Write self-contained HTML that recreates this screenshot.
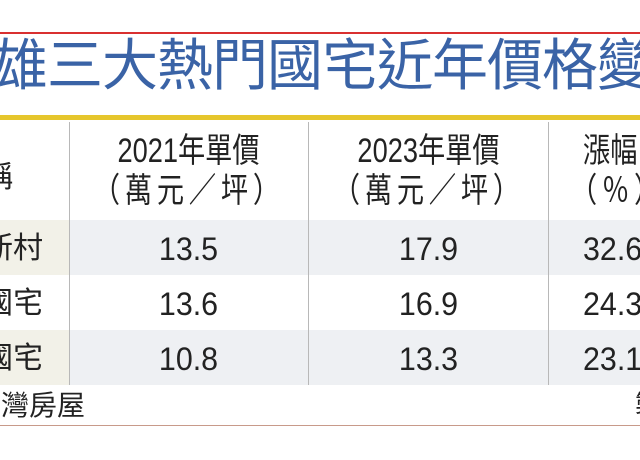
<!DOCTYPE html>
<html><head><meta charset="utf-8"><style>
body{margin:0;width:640px;height:460px;overflow:hidden;background:#fff;position:relative;font-family:"Liberation Sans","Noto Sans CJK TC",sans-serif;color:#222}
div{position:absolute}
.t{white-space:nowrap}
.h{font-size:34px;line-height:36px;text-align:center;width:239px;transform:scaleX(.8);transform-origin:center}
.n{font-size:32px;line-height:32px;text-align:center;width:239px;transform:scaleX(.95);transform-origin:center}
.l{font-size:30px;line-height:30px}
.c4{font-size:32px;line-height:32px;transform:scaleX(.95);transform-origin:left}
</style></head><body>
<div style="left:0;top:32px;width:640px;height:2px;background:#d93030"></div>
<div class="t" style="left:-8px;top:34px;font-size:56px;line-height:56px;letter-spacing:-1px;color:#3a63a6;font-family:'Noto Sans CJK TC',sans-serif">雄三大熱門國宅近年價格變</div>
<div style="left:0;top:115px;width:640px;height:5px;background:#e6c62c"></div>
<div style="left:0;top:220px;width:69px;height:55px;background:#f2f1e8"></div>
<div style="left:69px;top:220px;width:571px;height:55px;background:#eef0f3"></div>
<div style="left:0;top:330px;width:69px;height:55px;background:#f2f1e8"></div>
<div style="left:69px;top:330px;width:571px;height:55px;background:#eef0f3"></div>
<div style="left:69px;top:122px;width:1px;height:263px;background:#b8b8b8"></div>
<div style="left:308px;top:122px;width:1px;height:263px;background:#b8b8b8"></div>
<div style="left:548px;top:122px;width:1px;height:263px;background:#b8b8b8"></div>
<div class="t l" style="left:-17px;top:163px">稱</div>
<div class="h t" style="left:69px;top:133px">2021年單價</div>
<div class="h t" style="left:69px;top:173px;letter-spacing:6px">（萬元／坪）</div>
<div class="h t" style="left:309px;top:133px">2023年單價</div>
<div class="h t" style="left:309px;top:173px;letter-spacing:6px">（萬元／坪）</div>
<div class="t" style="left:583px;top:133px;font-size:34px;line-height:36px;transform:scaleX(.8);transform-origin:left">漲幅</div>
<div class="t" style="left:570px;top:173px;font-size:34px;line-height:36px;letter-spacing:6px;transform:scaleX(.8);transform-origin:left">（％）</div>
<div class="t l" style="left:-17px;top:234px">新村</div>
<div class="t l" style="left:-17px;top:289px">國宅</div>
<div class="t l" style="left:-17px;top:344px">國宅</div>
<div class="n t" style="left:69px;top:233px">13.5</div>
<div class="n t" style="left:309px;top:233px">17.9</div>
<div class="t c4" style="left:583px;top:233px">32.6</div>
<div class="n t" style="left:69px;top:288px">13.6</div>
<div class="n t" style="left:309px;top:288px">16.9</div>
<div class="t c4" style="left:583px;top:288px">24.3</div>
<div class="n t" style="left:69px;top:343px">10.8</div>
<div class="n t" style="left:309px;top:343px">13.3</div>
<div class="t c4" style="left:583px;top:343px">23.1</div>
<div class="t" style="left:-27px;top:390px;font-size:28px;line-height:32px">台灣房屋</div>
<div class="t" style="left:635px;top:390px;font-size:28px;line-height:32px">製</div>
<div style="left:0;top:425px;width:640px;height:1px;background:#c89a8a"></div>
</body></html>
